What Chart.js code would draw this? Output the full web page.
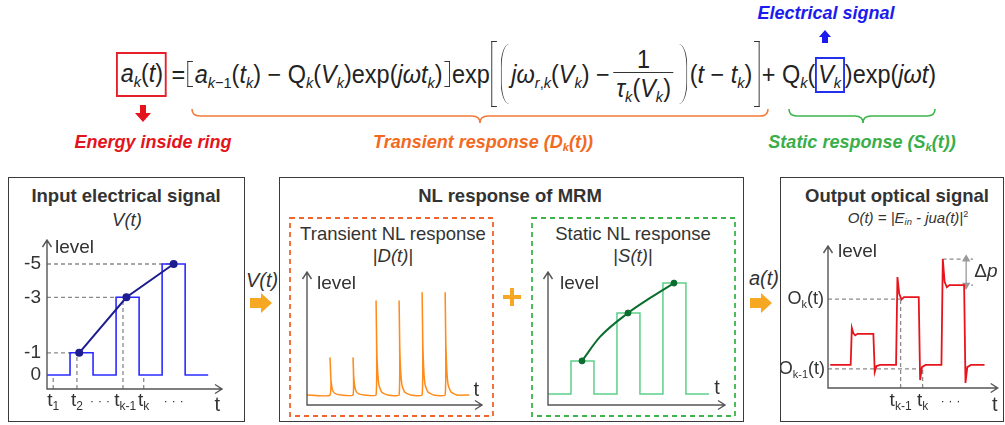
<!DOCTYPE html>
<html>
<head>
<meta charset="utf-8">
<script src="https://cdn.jsdelivr.net/npm/chart.js@4.4.1/dist/chart.umd.min.js"></script>
<style>
  body { margin: 0; width: 1005px; height: 425px; position: relative; overflow: hidden; background: #fff;
         font-family: "Liberation Sans", Arial, sans-serif; color: #333; }
  .c { position: absolute; white-space: nowrap; transform: translate(-50%, -50%); }
  .panel { position: absolute; border: 1.5px solid #3a3a3a; box-sizing: border-box; }
  .dash { position: absolute; box-sizing: border-box; }
  canvas { position: absolute; }
  .bt { font-weight: bold; font-size: 18.5px; color: #333; }
  .nt { font-size: 18.5px; color: #333; }
  .tag { font-weight: bold; font-style: italic; font-size: 18px; }
  sub { font-size: 62%; vertical-align: -0.3em; line-height: 0; }

  #eq { position: absolute; left: 116px; top: 40px; height: 68px; display: flex; align-items: center;
        white-space: nowrap; font-size: 25px; color: #222; transform-origin: 0 50%; }
  #eq > span { display: inline-block; }
  .rbox { border: 2px solid #e5202a; padding: 5px 2px 7px 3px; }
  .bbox { border: 2px solid #2030ee; padding: 1px 2px 3px 1px; }
  .br { width: 6px; border: 1.3px solid #333; box-sizing: border-box; margin: 0 2px; }
  .br.l { border-right: none; }
  .br.r { border-left: none; }
  .par { width: 9px; box-sizing: border-box; margin: 0 2px; }
  .par.l { border-left: 1.4px solid #333; border-radius: 12px 0 0 12px / 30px 0 0 30px; }
  .par.r { border-right: 1.4px solid #333; border-radius: 0 12px 12px 0 / 0 30px 30px 0; }
  .frac { display: inline-flex !important; flex-direction: column; align-items: center; margin: 0 4px; }
  .frac .num { line-height: 26px; }
  .frac .den { border-top: 1.3px solid #333; line-height: 30px; padding: 0 3px; }
</style>
</head>
<body>

<!-- equation -->
<div id="eq">
  <span class="rbox"><i>a</i><sub><i>k</i></sub>(<i>t</i>)</span>
  <span>&thinsp;=</span>
  <span class="br l" style="height:26px"></span>
  <span><i>a</i><sub><i>k</i>−1</sub>(<i>t</i><sub><i>k</i></sub>) − Q<sub><i>k</i></sub>(<i>V</i><sub><i>k</i></sub>)exp(<i>jωt</i><sub><i>k</i></sub>)</span>
  <span class="br r" style="height:26px"></span>
  <span>exp</span>
  <span class="br l" style="height:66px"></span>
  <span class="par l" style="height:60px"></span>
  <span><i>jω</i><sub><i>r</i>,<i>k</i></sub>(<i>V</i><sub><i>k</i></sub>) −</span>
  <span class="frac"><span class="num">1</span><span class="den"><i>τ</i><sub><i>k</i></sub>(<i>V</i><sub><i>k</i></sub>)</span></span>
  <span class="par r" style="height:60px"></span>
  <span>(<i>t</i> − <i>t</i><sub><i>k</i></sub>)</span>
  <span class="br r" style="height:66px"></span>
  <span>+ Q<sub><i>k</i></sub>(<span class="bbox"><i>V</i><sub><i>k</i></sub></span>)exp(<i>jωt</i>)</span>
</div>

<div class="c tag" style="left:826px; top:13px; color:#1b1bf0;">Electrical signal</div>
<div class="c tag" style="left:153px; top:142px; color:#e3141c;">Energy inside ring</div>
<div class="c tag" style="left:483px; top:142px; color:#f26a21;">Transient response (<i>D</i><sub>k</sub>(t))</div>
<div class="c tag" style="left:862px; top:142px; color:#3aae49;">Static response (<i>S</i><sub>k</sub>(t))</div>

<svg width="1005" height="425" style="position:absolute;left:0;top:0">
  <path d="M192,109 Q192,116 200,116 L472,116 Q480,116 480,123 Q480,116 488,116 L760,116 Q768,116 768,109" fill="none" stroke="#f47b3a" stroke-width="1.6"/>
  <path d="M789,109 Q789,116 797,116 L855,116 Q863,116 863,123 Q863,116 871,116 L927,116 Q935,116 935,109" fill="none" stroke="#3cb54a" stroke-width="1.6"/>
  <polygon points="140,105 146,105 146,113 151,113 143,122 135,113 140,113" fill="#e3141c"/>
  <polygon points="825,30 831,37 828,37 828,43 822,43 822,37 819,37" fill="#1b1bf0"/>
  <polygon points="250,298 261,298 261,293 272,303 261,313 261,308 250,308" fill="#f7a823"/>
  <polygon points="750,298 761,298 761,293 772,303 761,313 761,308 750,308" fill="#f7a823"/>
  <rect x="503" y="295" width="18" height="4" fill="#f7a823"/>
  <rect x="510" y="288" width="4" height="18" fill="#f7a823"/>
  <rect x="290" y="218" width="203" height="198" fill="none" stroke="#f0642d" stroke-width="1.8" stroke-dasharray="5,4"/>
  <rect x="532" y="218" width="203" height="198" fill="none" stroke="#3cb44a" stroke-width="1.8" stroke-dasharray="5,4"/>
</svg>

<!-- panels -->
<div class="panel" style="left:8px; top:177px; width:237px; height:245px;"></div>
<div class="panel" style="left:279px; top:177px; width:465px; height:245px;"></div>
<div class="panel" style="left:780px; top:177px; width:224px; height:245px;"></div>

<div class="c bt" style="left:126px; top:196px;">Input electrical signal</div>
<div class="c nt" style="left:127px; top:220px;"><i>V(t)</i></div>
<div class="c bt" style="left:510px; top:196px;">NL response of MRM</div>
<div class="c nt" style="left:393px; top:234px;">Transient NL response</div>
<div class="c nt" style="left:393px; top:256px;">|<i>D(t)</i>|</div>
<div class="c nt" style="left:633px; top:234px;">Static NL response</div>
<div class="c nt" style="left:633px; top:256px;">|<i>S(t)</i>|</div>
<div class="c bt" style="left:897px; top:196px;">Output optical signal</div>
<div class="c nt" style="left:908px; top:217px; font-size:15px;"><i>O(t) = |E<sub>in</sub> - jua(t)|</i><sup style="font-size:60%">2</sup></div>
<div class="c nt" style="left:262px; top:280px; font-size:20px;"><i>V(t)</i></div>
<div class="c nt" style="left:764px; top:278px; font-size:20px;"><i>a(t)</i></div>

<canvas id="cIn" width="234" height="188" style="left:10px; top:232px;"></canvas>
<canvas id="cTr" width="198" height="150" style="left:292px; top:262px;"></canvas>
<canvas id="cSt" width="198" height="150" style="left:534px; top:262px;"></canvas>
<canvas id="cOut" width="222" height="184" style="left:781px; top:236px;"></canvas>

<script>
// ---- input electrical signal V(t) ----
const inputT = [0, 1, 1, 2, 2, 3, 3, 4, 4, 5, 5, 6, 6, 7];
const inputLevel = [0, 0, 1, 1, 0, 0, 3.5, 3.5, 0, 0, 5, 5, 0, 0];
const inputSampleT = [1.4, 3.45, 5.5];
const inputSampleLevel = [1, 3.5, 5];
const levelTicks = [0, 1, 3.5, 5];
const levelLabels = ["0", "-1", "-3", "-5"];
const inputTimeTicks = [0.27, 1.3, 2.3, 3.4, 4.2, 5.5];
const inputTimeLabels = [["t", "1"], ["t", "2"], ["· · ·", ""], ["t", "k-1"], ["t", "k"], ["· · ·", ""]];
const inputGuideT = [0.27, 1.3, 3.3, 4.2];
const inputGuideTop = [0, 1, 3.5, 0];

// ---- transient NL response |D(t)| ----
const transientT = [0,
  1, 1, 1.03, 1.07, 1.13, 1.25, 1.5,
  2, 2, 2.03, 2.07, 2.13, 2.25, 2.5,
  3, 3, 3.03, 3.07, 3.13, 3.25, 3.5,
  4, 4, 4.03, 4.07, 4.13, 4.25, 4.5,
  5, 5, 5.03, 5.07, 5.13, 5.25, 5.5,
  6, 6, 6.03, 6.07, 6.13, 6.25, 6.5, 7.05];
const transientLevel = [0,
  0, 1.67, 0.84, 0.42, 0.17, 0.05, 0,
  0, 1.67, 0.84, 0.42, 0.17, 0.05, 0,
  0, 4.23, 2.1, 1.05, 0.42, 0.12, 0,
  0, 4.23, 2.1, 1.05, 0.42, 0.12, 0,
  0, 4.6, 2.3, 1.15, 0.46, 0.14, 0,
  0, 4.6, 2.3, 1.15, 0.46, 0.14, 0, 0];

// ---- static NL response |S(t)| ----
const staticT = [0, 1, 1, 2, 2, 3, 3, 4, 4, 5, 5, 6, 6, 7];
const staticLevel = [0, 0, 1.49, 1.49, 0, 0, 3.65, 3.65, 0, 0, 5, 5, 0, 0];
const staticSampleT = [1.48, 3.48, 5.48];
const staticSampleLevel = [1.49, 3.65, 5];
const staticCurveT = [1.48, 2.26, 3.48, 4.43, 5.48];
const staticCurveLevel = [1.49, 2.57, 3.65, 4.32, 5];

// ---- output optical signal O(t) ----
const outputT = [0.1, 1, 1.05, 1.12, 1.2, 1.3, 2, 2.06, 2.14, 2.3, 3, 3.06, 3.14, 3.24, 3.35, 4, 4.06, 4.14, 4.3,
  5, 5.06, 5.14, 5.24, 5.35, 6, 6.06, 6.14, 6.3, 6.9];
const outputLevel = [0, 0, 1.67, 1.42, 1.33, 1.4, 1.4, -0.32, -0.05, 0, 0, 3.96, 3.2, 2.95, 3.06, 3.06, -0.68, -0.1, 0,
  0, 4.77, 3.75, 3.5, 3.6, 3.6, -0.81, -0.1, 0, 0];
const outputTimeTicks = [3.2, 4.17, 5.4];
const outputTimeLabels = [["t", "k-1"], ["t", "k"], ["· · ·", ""]];
const outLevelK = 2.97, outLevelK1 = -0.18;   // O_k(t), O_k-1(t)
const peakLevel = 4.77, settleLevel = 3.6;    // delta p

const FONT = "'Liberation Sans', Arial, sans-serif";

function drawSegs(ctx, segs, x, y, align, size, color) {
  const parts = segs.filter(s => s[0] !== "").map(s => {
    const k = s[1] || "";
    const sub = k.includes("s"), it = k.includes("i");
    const f = (it ? "italic " : "") + (sub ? Math.round(size * 0.62) : size) + "px " + FONT;
    ctx.font = f;
    return { t: s[0], f: f, w: ctx.measureText(s[0]).width, dy: sub ? size * 0.32 : 0 };
  });
  const total = parts.reduce((a, p) => a + p.w, 0);
  let cx = align === "right" ? x - total : align === "center" ? x - total / 2 : x;
  ctx.fillStyle = color || "#333";
  ctx.textBaseline = "middle";
  ctx.textAlign = "left";
  parts.forEach(p => { ctx.font = p.f; ctx.fillText(p.t, cx, y + p.dy); cx += p.w; });
}

// axes with open arrow heads + text labels placed through the scales
const sketchPlugin = {
  id: "sketch",
  afterDatasetsDraw(chart, args, opts) {
    const ctx = chart.ctx, a = chart.chartArea;
    const sx = chart.scales.x, sy = chart.scales.y;
    ctx.save();
    ctx.strokeStyle = "#555";
    ctx.lineWidth = 1.4;
    ctx.beginPath();
    ctx.moveTo(a.left, a.top); ctx.lineTo(a.left, a.bottom); ctx.lineTo(a.right, a.bottom);
    ctx.moveTo(a.left - 4.5, a.top + 7); ctx.lineTo(a.left, a.top); ctx.lineTo(a.left + 4.5, a.top + 7);
    ctx.moveTo(a.right - 7, a.bottom - 4.5); ctx.lineTo(a.right, a.bottom); ctx.lineTo(a.right - 7, a.bottom + 4.5);
    ctx.stroke();
    (opts.labels || []).forEach(l => {
      const px = sx.getPixelForValue(l.x) + (l.dx || 0);
      const py = sy.getPixelForValue(l.y) + (l.dy || 0);
      drawSegs(ctx, l.segs, px, py, l.align || "left", l.size || 19, l.color);
    });
    ctx.restore();
  }
};

function xy(xs, ys) { return xs.map((x, i) => ({ x: x, y: ys[i] })); }
function guide(x0, y0, x1, y1) {
  return { data: [{ x: x0, y: y0 }, { x: x1, y: y1 }], borderColor: "#8a8a8a", borderWidth: 1.3,
           borderDash: [4, 3], pointRadius: 0, tension: 0 };
}
function tickLabel(t, lab, yv, dy) {
  return { x: t, y: yv, dy: dy, align: "center", size: lab[1] ? 19 : 13,
           segs: [[lab[0], ""], [lab[1], "s"]] };
}

function makeChart(id, xMax, yMin, yMax, pad, datasets, labels) {
  return new Chart(document.getElementById(id), {
    type: "line",
    data: { datasets: datasets },
    options: {
      responsive: false,
      animation: false,
      layout: { padding: pad },
      scales: {
        x: { type: "linear", display: false, min: 0, max: xMax },
        y: { type: "linear", display: false, min: yMin, max: yMax }
      },
      plugins: { legend: { display: false }, tooltip: { enabled: false }, sketch: { labels: labels } }
    },
    plugins: [sketchPlugin]
  });
}

// ---- panel 1 ----
const inMin = -0.63, inMax = 6.08;
const inSets = [
  { data: xy(inputSampleT, inputSampleLevel), borderColor: "#1d1d8f", backgroundColor: "#1d1d8f",
    borderWidth: 2, pointRadius: 3, tension: 0 },
  { data: xy(inputT, inputLevel), borderColor: "#2b2bff", borderWidth: 1.6, pointRadius: 0, tension: 0 }
];
inputSampleT.forEach((t, i) => inSets.push(guide(0, inputSampleLevel[i], t, inputSampleLevel[i])));
inputGuideT.forEach((t, i) => inSets.push(guide(t, inMin, t, inputGuideTop[i])));
const inLabels = [
  { x: 0, y: inMax, dx: 8, dy: 8, segs: [["level", ""]] },
  { x: 7.4, y: inMin, dy: 16, align: "center", segs: [["t", ""]], size: 20 }
];
levelTicks.forEach((v, i) => inLabels.push({ x: 0, y: v, dx: -6, align: "right", segs: [[levelLabels[i], ""]] }));
inputTimeTicks.forEach((t, i) => inLabels.push(tickLabel(t, inputTimeLabels[i], inMin, 12)));
makeChart("cIn", 7.6, inMin, inMax, { left: 37, top: 8, right: 22, bottom: 31 }, inSets, inLabels);

// ---- panel 2, transient ----
makeChart("cTr", 7.6, -0.45, 5.54, { left: 15, top: 10, right: 8, bottom: 7 },
  [{ data: xy(transientT, transientLevel), borderColor: "#ff8c1a", borderWidth: 1.5, pointRadius: 0, tension: 0.15 }],
  [{ x: 0, y: 5.54, dx: 10, dy: 12, segs: [["level", ""]] },
   { x: 7.35, y: 0, dy: -5, align: "center", segs: [["t", ""]], size: 20 }]);

// ---- panel 2, static ----
makeChart("cSt", 7.7, -0.5, 5.5, { left: 14, top: 10, right: 7, bottom: 7 },
  [{ data: xy(staticSampleT, staticSampleLevel), showLine: false, borderColor: "#0b6e2f", backgroundColor: "#0b6e2f",
     pointRadius: 3 },
   { data: xy(staticCurveT, staticCurveLevel), borderColor: "#0b6e2f", borderWidth: 2, pointRadius: 0,
     cubicInterpolationMode: "monotone" },
   { data: xy(staticT, staticLevel), borderColor: "#5cd089", borderWidth: 1.5, pointRadius: 0, tension: 0 }],
  [{ x: 0, y: 5.5, dx: 12, dy: 12, segs: [["level", ""]] },
   { x: 7.35, y: 0, dy: -5, align: "center", segs: [["t", ""]], size: 20 }]);

// ---- panel 3, output ----
const outMin = -1.04, outMax = 5.36;
const outSets = [
  { data: xy(outputT, outputLevel), borderColor: "#e8141b", borderWidth: 1.8, pointRadius: 0, tension: 0 },
  { data: [{ x: 6.09, y: settleLevel }, { x: 6.09, y: peakLevel }], borderColor: "#999", backgroundColor: "#999",
    borderWidth: 1.3, pointStyle: "triangle", pointRadius: 3.5, pointRotation: [180, 0], tension: 0 },
  guide(0, outLevelK, outputTimeTicks[0], outLevelK),
  guide(outputTimeTicks[0], outMin, outputTimeTicks[0], outLevelK),
  guide(0, outLevelK1, outputTimeTicks[1], outLevelK1),
  guide(outputTimeTicks[1], outMin, outputTimeTicks[1], outLevelK1),
  guide(5.05, peakLevel, 6.39, peakLevel),
  guide(6.0, settleLevel, 6.39, settleLevel)
];
const outLabels = [
  { x: 0, y: outMax, dx: 10, dy: 6, segs: [["level", ""]] },
  { x: 0, y: outLevelK, dx: -4, align: "right", segs: [["O", ""], ["k", "s"], ["(t)", ""]], size: 18 },
  { x: 0, y: outLevelK1, dx: -3, align: "right", segs: [["O", ""], ["k-1", "s"], ["(t)", ""]], size: 18 },
  { x: 6.45, y: (peakLevel + settleLevel) / 2, align: "left", segs: [["Δ", ""], ["p", "i"]], size: 19 },
  { x: 7.35, y: outMin, dy: 17, align: "center", segs: [["t", ""]], size: 20 }
];
outputTimeTicks.forEach((t, i) => outLabels.push(tickLabel(t, outputTimeLabels[i], outMin, 13)));
makeChart("cOut", 7.48, outMin, outMax, { left: 47, top: 10, right: 3, bottom: 32 }, outSets, outLabels);

// squeeze the equation to the width it has in the figure
const eq = document.getElementById("eq");
eq.style.transform = "scaleX(" + (820 / eq.scrollWidth) + ")";
</script>
</body>
</html>
